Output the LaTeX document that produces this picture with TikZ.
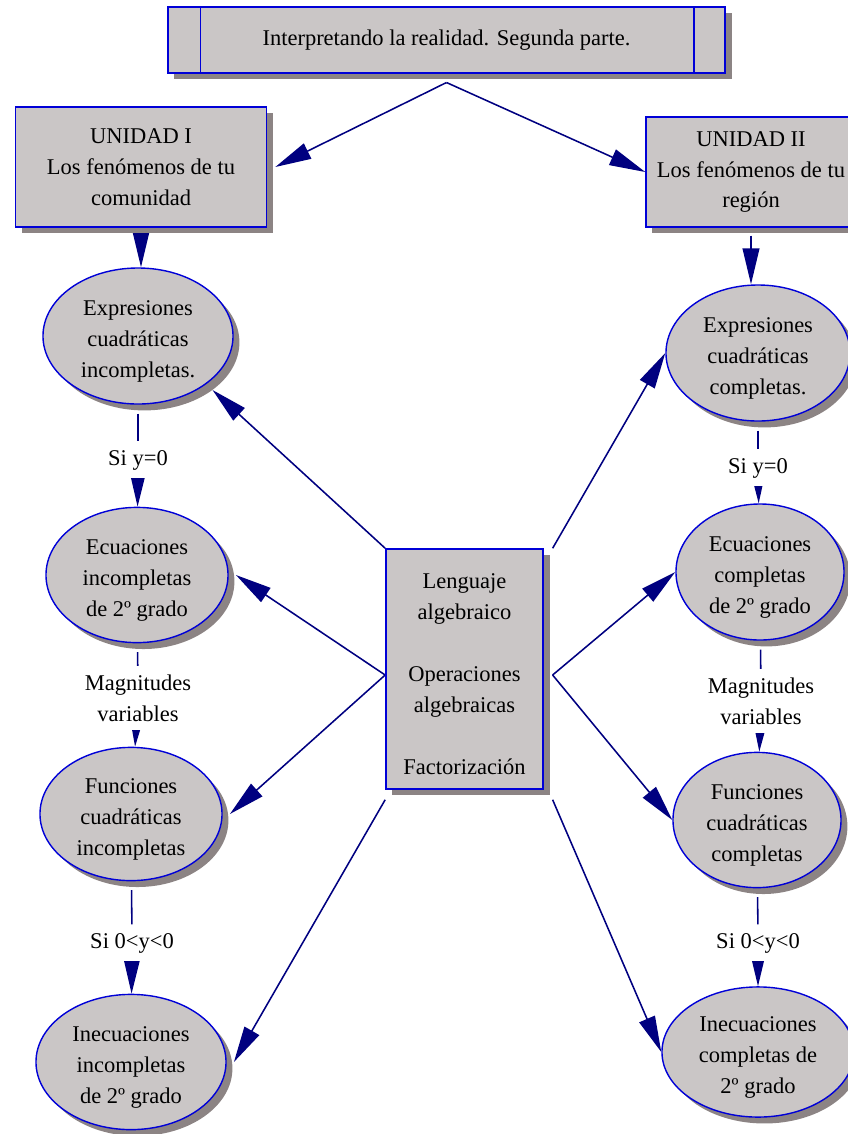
\documentclass[tikz,border=0pt]{standalone}
\usepackage{fontspec}
\setmainfont{Liberation Serif}
\usepackage{tikz}
\usetikzlibrary{positioning,calc,shapes.geometric,shadows,arrows.meta,backgrounds}

\definecolor{relleno}{RGB}{202,198,198}
\definecolor{sombra}{RGB}{140,132,132}
\definecolor{borde}{RGB}{0,0,215}
\definecolor{marino}{RGB}{0,0,128}

% primera línea algo más baja
\newcommand{\alto}{\rule{0pt}{18pt}}

\tikzset{
	caja/.style={draw=borde, line width=1pt, fill=relleno, align=center,
		drop shadow={shadow xshift=0.16cm, shadow yshift=-0.16cm, fill=sombra, opacity=1},
		font=\fontsize{16}{22}\selectfont},
	elipse/.style={caja, ellipse, inner sep=0pt},
	etiqueta/.style={fill=white, inner sep=6pt, align=center, font=\fontsize{16}{22}\selectfont},
	linea/.style={draw=marino, line width=1.1pt},
	flecha/.style={linea, -{Triangle[length=0.9cm,width=0.42cm]}}
}

\begin{document}
\begin{tikzpicture}[x=0.025cm,y=-0.025cm]
	\useasboundingbox (0,0) rectangle (848,1134);
	
	% título y unidades
	\node[caja, minimum width=13.93cm, minimum height=1.65cm] (top) at (446.5,40) {Interpretando la realidad. Segunda parte.};
	\draw[borde, line width=1pt] ([xshift=0.83cm]top.north west) -- ([xshift=0.83cm]top.south west);
	\draw[borde, line width=1pt] ([xshift=-0.8cm]top.north east) -- ([xshift=-0.8cm]top.south east);
	\node[caja, minimum width=6.28cm, minimum height=3cm] (u1) at (141,167) {UNIDAD I\\Los fenómenos de tu\\comunidad};
	\node[caja, minimum width=5.25cm, minimum height=2.75cm] (u2) at (751,172) {UNIDAD II\\Los fenómenos de tu\\región};
	
	% caja central
	\node[caja, minimum width=3.93cm, minimum height=6cm] (cb) at (464.5,669) {\alto Lenguaje\\algebraico\\\\Operaciones\\algebraicas\\\\Factorización};
	
	% columna izquierda
	\node[elipse, minimum width=4.75cm, minimum height=3.4cm] (e1) at (138,336) {\alto Expresiones\\cuadráticas\\incompletas.};
	\node[elipse, minimum width=4.55cm, minimum height=3.38cm] (e2) at (137,575) {\alto Ecuaciones\\incompletas\\de 2º grado};
	\node[elipse, minimum width=4.55cm, minimum height=3.33cm] (e3) at (131,814) {\alto Funciones\\cuadráticas\\incompletas};
	\node[elipse, minimum width=4.75cm, minimum height=3.38cm] (e4) at (131,1062) {\alto Inecuaciones\\incompletas\\de 2º grado};
	
	% columna derecha
	\node[elipse, minimum width=4.6cm, minimum height=3.4cm] (r1) at (758,353) {\alto Expresiones\\cuadráticas\\completas.};
	\node[elipse, minimum width=4.2cm, minimum height=3.4cm] (r2) at (760,572) {\alto Ecuaciones\\completas\\de 2º grado};
	\node[elipse, minimum width=4.2cm, minimum height=3.38cm] (r3) at (757,820) {\alto Funciones\\cuadráticas\\completas};
	\node[elipse, minimum width=4.8cm, minimum height=3.25cm] (r4) at (758,1052) {\alto Inecuaciones\\completas de\\2º grado};
	
	% etiquetas
	\node[etiqueta] (s1) at (138,460) {Si y=0};
	\node[etiqueta] (m1) at (138,698) {Magnitudes\\variables};
	\node[etiqueta] (s2) at (132,943) {Si 0<y<0};
	\node[etiqueta] (s3) at (758,468) {Si y=0};
	\node[etiqueta] (m2) at (761,701) {Magnitudes\\variables};
	\node[etiqueta] (s4) at (758,943) {Si 0<y<0};
	
	\begin{scope}[on background layer]
		\draw[flecha] ([yshift=-0.22cm]top.south) -- ([xshift=0.2cm]u1.east);
		\draw[flecha] ([yshift=-0.22cm]top.south) -- (u2.west);
		\draw[flecha] ([yshift=-0.2cm]u1.south) -- (u1.south |- e1.north);
		\draw[flecha] ([yshift=-0.2cm]u2.south) -- (u2.south |- r1.north);
		
		\draw[linea, shorten <=0.22cm] (e1) -- (s1);
		\draw[flecha] (s1) -- (e2);
		\draw[linea, shorten <=0.22cm] (e2) -- (m1);
		\draw[flecha] (m1) -- (e3);
		\draw[linea, shorten <=0.22cm] (e3) -- (s2);
		\draw[flecha] (s2) -- (e4);
		
		\draw[linea, shorten <=0.22cm] (r1) -- (s3);
		\draw[flecha] (s3) -- (r2);
		\draw[linea, shorten <=0.22cm] (r2) -- (m2);
		\draw[flecha] (m2) -- (r3);
		\draw[linea, shorten <=0.22cm] (r3) -- (s4);
		\draw[flecha] (s4) -- (r4);
		
		% desde la caja central
		\draw[flecha] (cb.north west) -- ([xshift=0.15cm,yshift=-0.15cm]e1.-35);
		\draw[flecha] ([yshift=-0.15cm]cb.west) -- ([xshift=0.18cm]e2.east);
		\draw[flecha] ([yshift=-0.15cm]cb.west) -- ([xshift=0.18cm]e3.east);
		\draw[flecha] ([yshift=-0.25cm]cb.south west) -- ([xshift=0.18cm]e4.east);
		\draw[flecha] ([xshift=0.22cm]cb.north east) -- (r1.west);
		\draw[flecha] ([xshift=0.22cm,yshift=-0.15cm]cb.east) -- (r2.west);
		\draw[flecha] ([xshift=0.22cm,yshift=-0.15cm]cb.east) -- (r3.west);
		\draw[flecha] ([xshift=0.22cm,yshift=-0.25cm]cb.south east) -- (r4.west);
	\end{scope}
\end{tikzpicture}
\end{document}
